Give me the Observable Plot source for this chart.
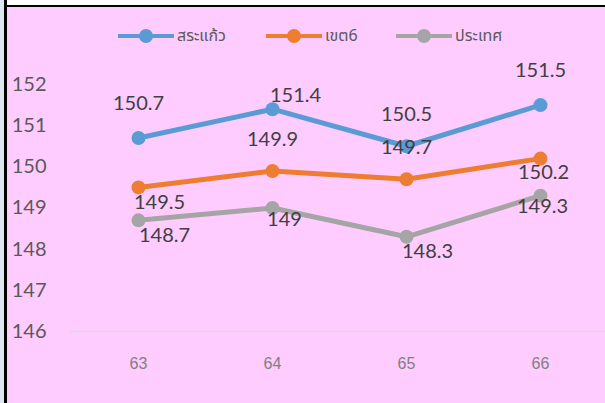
<!DOCTYPE html>
<html><head><meta charset="utf-8">
<script src="https://cdn.jsdelivr.net/npm/d3@7"></script>
<script src="https://cdn.jsdelivr.net/npm/@observablehq/plot@0.6"></script>
<style>
body{margin:0;width:605px;height:403px;overflow:hidden;background:#fff;position:relative;font-family:Lato,sans-serif}
#strip{position:absolute;left:0;top:0;width:4px;height:403px;background:#dce6f1}
#vline{position:absolute;left:4px;top:0;width:3px;height:403px;background:#000}
#frame{position:absolute;left:7px;top:5px;width:598px;height:398px;border-top:2px solid #000;background:#ffccff}
#legend{position:relative;height:53px;}
.item{position:absolute;top:19px;height:20px;display:flex;align-items:center;font-family:"Noto Sans Thai","Loma","Garuda","Tahoma","DejaVu Sans",sans-serif;font-size:16px;color:#595959}
.item svg{margin-right:3px}
#chart svg{display:block}
</style></head>
<body>
<div id="strip"></div>
<div id="frame"><div id="legend"></div><div id="chart"></div></div>
<div id="vline"></div>
<script>
const years = ["63", "64", "65", "66"];
const seriesNames = ["สระแก้ว", "เขต6", "ประเทศ"];
const sakaeo = [150.7, 151.4, 150.5, 151.5];
const khet6 = [149.5, 149.9, 149.7, 150.2];
const prathet = [148.7, 149, 148.3, 149.3];
const yTicks = [146, 147, 148, 149, 150, 151, 152];

const colors = ["#5B9BD5", "#ED7D31", "#A5A5A5"];
// label placement offsets (px) per series per year
const labelOffsets = [
  [[0, -34], [23, -14], [0, -32], [0, -34]],
  [[21, 15], [0, -31], [0, -32], [3, 14]],
  [[26, 15], [12, 12], [21, 15], [2, 11]]
];
const legendLeft = [111, 259, 389];

const seriesValues = [sakaeo, khet6, prathet];
const data = [];
seriesNames.forEach((s, i) => years.forEach((y, j) => data.push({series: s, year: y, value: seriesValues[i][j], si: i, yi: j})));

// legend
const leg = document.getElementById("legend");
seriesNames.forEach((s, i) => {
  const d = document.createElement("div");
  d.className = "item";
  d.style.left = legendLeft[i] + "px";
  d.innerHTML = `<svg width="56" height="20"><line x1="0" y1="10" x2="56" y2="10" stroke="${colors[i]}" stroke-width="4" stroke-linecap="round"/><circle cx="28" cy="10" r="7" fill="${colors[i]}"/></svg><span>${s}</span>`;
  leg.appendChild(d);
});

const labelMarks = data.map(d => Plot.text([d], {
  x: "year", y: "value", text: dd => String(dd.value),
  dx: labelOffsets[d.si][d.yi][0], dy: labelOffsets[d.si][d.yi][1],
  fill: "#404040", fontSize: 20, fontFamily: "Lato, sans-serif"
}));

const chart = Plot.plot({
  width: 598, height: 343,
  marginLeft: 63, marginRight: -3, marginTop: 24, marginBottom: 72,
  style: {background: "transparent", overflow: "visible"},
  x: {type: "point", domain: years, padding: 0.5, label: null},
  y: {domain: [146, 152], label: null},
  color: {domain: seriesNames, range: colors},
  marks: [
    Plot.ruleY([146], {stroke: "#d9d9d9", strokeWidth: 1.5}),
    Plot.axisY({ticks: yTicks, tickFormat: d3.format("d"), tickSize: 0, tickPadding: 24, fontSize: 20, fontFamily: "Lato, sans-serif", fill: "#595959", label: null}),
    Plot.axisX({tickSize: 0, tickPadding: 26, fontSize: 16, fontFamily: "Liberation Sans, sans-serif", fill: "#7f7f7f", label: null}),
    Plot.line(data, {x: "year", y: "value", z: "series", stroke: "series", strokeWidth: 5, curve: "linear"}),
    Plot.dot(data, {x: "year", y: "value", fill: "series", r: 7}),
    ...labelMarks
  ]
});
document.getElementById("chart").appendChild(chart);
</script>
</body></html>
